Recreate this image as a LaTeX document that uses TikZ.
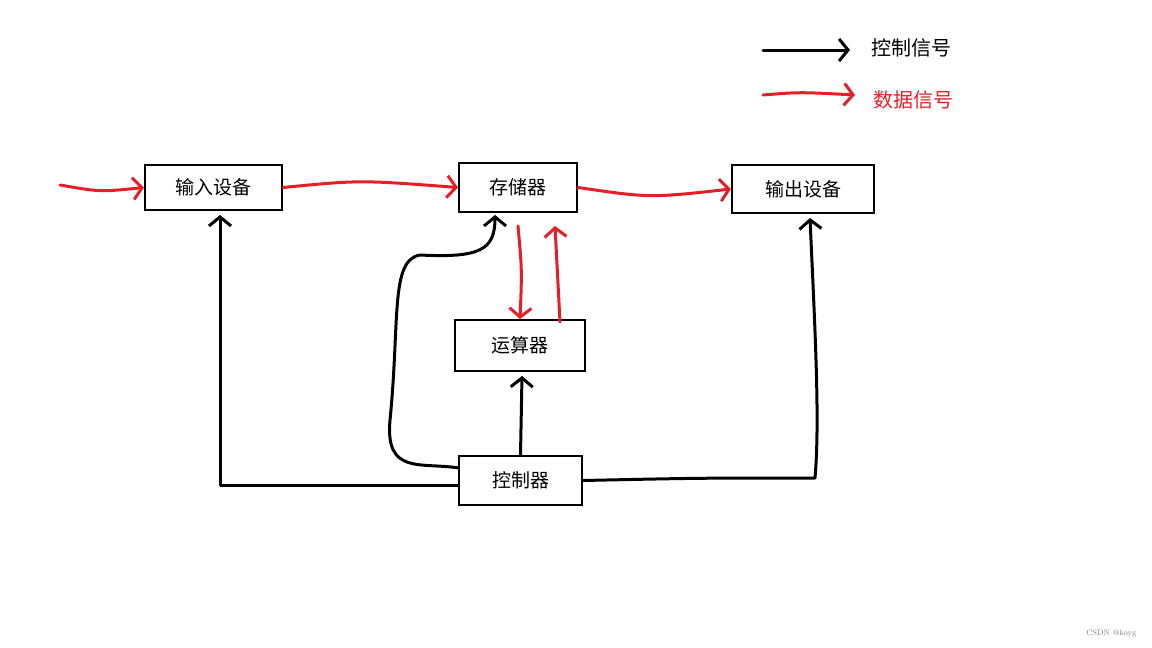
\documentclass[tikz,border=0pt]{standalone}
\usepackage{fontspec}
\newfontfamily\cjk{Noto Sans CJK SC}
\usetikzlibrary{arrows.meta}
\definecolor{dred}{RGB}{230,30,40}
\begin{document}
\begin{tikzpicture}[x=1pt,y=-1pt,
  box/.style={draw,line width=2pt,minimum height=45pt,font=\cjk\fontsize{19}{19}\selectfont,inner sep=0pt},
  hand/.style={line width=3pt,line cap=round,line join=round,-{Straight Barb[length=9pt,width=22pt,line width=3pt]}},
  ctl/.style={hand,black},
  dat/.style={hand,dred}]
\useasboundingbox (0,0) rectangle (1152,648);
\node[box,minimum width=137pt] (in) at (213.5,187.5) {输入设备};
\node[box,minimum width=118pt,minimum height=49pt] (mem) at (518,187.5) {存储器};
\node[box,minimum width=142pt,minimum height=48pt] (out) at (803,189) {输出设备};
\node[box,minimum width=130pt,minimum height=51pt] (alu) at (520,345.5) {运算器};
\node[box,minimum width=123pt,minimum height=49pt] (ctrl) at (520.5,480.5) {控制器};
% legend
\coordinate (l1a) at (763,50); \coordinate (l1b) at (850,50);
\coordinate (l2a) at (763,95); \coordinate (l2b) at (855,95);
\draw[ctl] (l1a) -- (l1b);
\draw[dat] (l2a) .. controls (800,92) .. (l2b);
\node[font=\cjk\fontsize{20}{20}\selectfont,anchor=west] (t1) at (868,48) {控制信号};
\node[font=\cjk\fontsize{20}{20}\selectfont,anchor=west,text=dred] (t2) at (870,100) {数据信号};
\node[font=\fontsize{8}{8}\selectfont,text=gray,anchor=east] (wm) at (1140,633) {CSDN @koyg};
% data
\coordinate (s0) at (60,185);
\draw[dat] (s0) .. controls (100,192) .. (in.west);
\draw[dat] (in.east) .. controls (360,180) .. (mem.west);
\draw[dat] (mem.east) .. controls (650,198) .. (out.west);
\coordinate (md) at (518,226);
\draw[dat] (md) .. controls (522,270) .. (alu.north);
\coordinate (au) at (560,322); \coordinate (mu) at (555,226);
\draw[dat] (au) -- (mu);
% control
\coordinate (c1) at (220,485);
\draw[ctl] (ctrl.west |- c1) -- (c1) -- (220,215);
\draw[ctl] (ctrl.north) -- (522,376);
\coordinate (c2) at (459,468);
\draw[ctl] (c2) .. controls (420,462) and (385,475) .. (390,420)
  .. controls (400,320) and (390,260) .. (420,255)
  .. controls (480,258) and (495,250) .. (495,215);
\coordinate (c3) at (815,478);
\draw[ctl] (ctrl.east) .. controls (700,478) .. (c3)
  .. controls (820,420) and (815,330) .. (810,218);
\end{tikzpicture}
\end{document}
